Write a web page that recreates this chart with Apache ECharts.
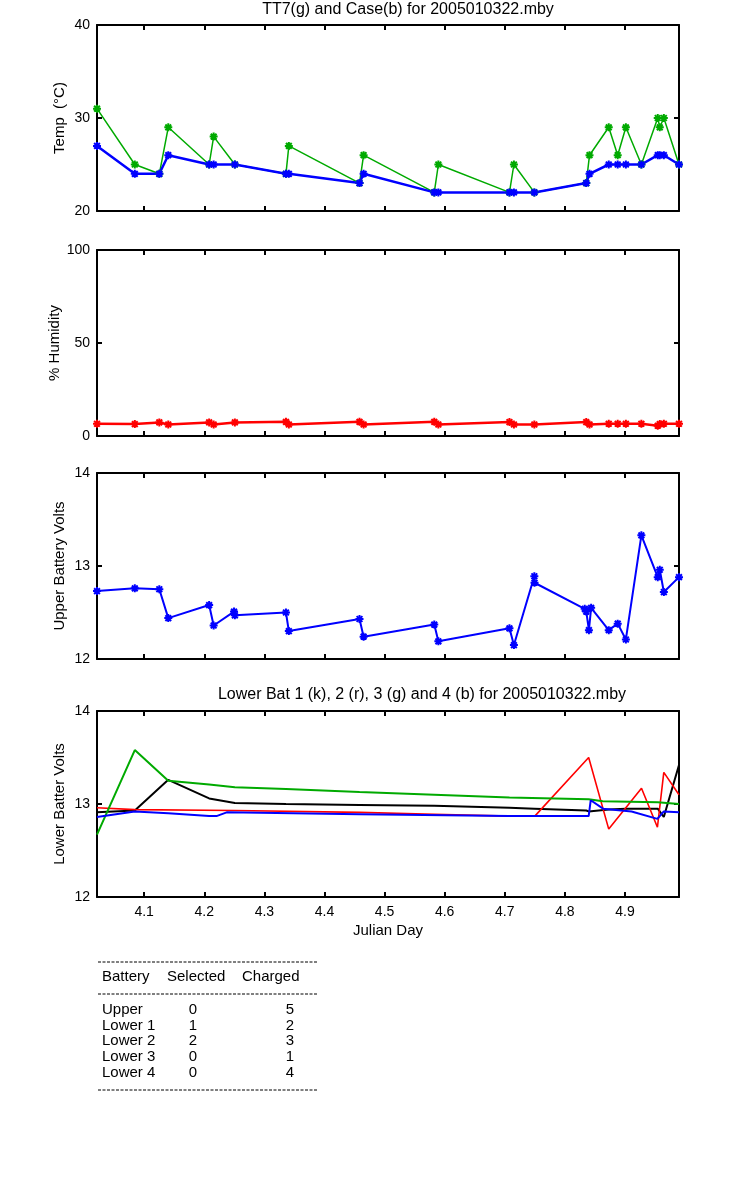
<!DOCTYPE html>
<html>
<head>
<meta charset="utf-8">
<script src="https://cdn.jsdelivr.net/npm/echarts@6/dist/echarts.min.js"></script>
<style>
html,body{margin:0;padding:0;background:#fff;}
#chart{width:750px;height:1200px;}
</style>
</head>
<body>
<div id="chart"></div>
<script>
// ---------------- DATA ----------------
const xTicks = [4.1, 4.2, 4.3, 4.4, 4.5, 4.6, 4.7, 4.8, 4.9];

const jdTemp = [4.0215, 4.0844, 4.1252, 4.1401, 4.2081, 4.2156, 4.2509, 4.3359, 4.3407, 4.4583, 4.4651, 4.5827, 4.5895, 4.7078, 4.7152, 4.7492, 4.8356, 4.8410, 4.8730, 4.8879, 4.9015, 4.9273, 4.9545, 4.9579, 4.9647, 4.9899];
const tt7Temp = [31, 25, 24, 29, 25, 28, 25, 24, 27, 23, 26, 22, 25, 22, 25, 22, 23, 26, 29, 26, 29, 25, 30, 29, 30, 25];
const caseTemp = [27, 24, 24, 26, 25, 25, 25, 24, 24, 23, 24, 22, 22, 22, 22, 22, 23, 24, 25, 25, 25, 25, 26, 26, 26, 25];

const humidity = [6.6, 6.4, 7.3, 6.2, 7.3, 6.2, 7.3, 7.6, 6.2, 7.6, 6.2, 7.6, 6.2, 7.5, 6.2, 6.2, 7.5, 6.2, 6.6, 6.6, 6.6, 6.6, 5.5, 6.4, 6.6, 6.6];

const jdUpper = [4.0215, 4.0844, 4.1252, 4.1401, 4.2081, 4.2156, 4.2495, 4.2509, 4.3359, 4.3407, 4.4583, 4.4651, 4.5827, 4.5895, 4.7078, 4.7152, 4.7492, 4.7495, 4.8330, 4.8356, 4.8400, 4.8437, 4.8730, 4.8879, 4.9015, 4.9273, 4.9545, 4.9579, 4.9647, 4.9899];
const upperVolts = [12.73, 12.76, 12.75, 12.44, 12.58, 12.36, 12.51, 12.47, 12.50, 12.30, 12.43, 12.24, 12.37, 12.19, 12.33, 12.15, 12.89, 12.82, 12.54, 12.51, 12.31, 12.55, 12.31, 12.38, 12.21, 13.33, 12.88, 12.96, 12.72, 12.88];

const lower1Days = [4.0215, 4.0844, 4.1401, 4.2081, 4.2509, 4.3359, 4.4583, 4.5827, 4.7078, 4.7492, 4.8356, 4.8396, 4.8730, 4.9015, 4.9545, 4.9646, 4.9899];
const lower1Volts = [12.91, 12.93, 13.26, 13.06, 13.01, 13.00, 12.99, 12.98, 12.96, 12.95, 12.93, 12.92, 12.94, 12.95, 12.95, 12.86, 13.42];

const lower2Days = [4.0215, 4.0844, 4.2509, 4.4583, 4.5827, 4.7078, 4.7500, 4.8396, 4.8730, 4.9275, 4.9540, 4.9646, 4.9899];
const lower2Volts = [12.96, 12.94, 12.93, 12.91, 12.89, 12.87, 12.87, 13.50, 12.73, 13.17, 12.75, 13.34, 13.10];

const lower3Days = [4.0215, 4.0844, 4.1401, 4.2081, 4.2509, 4.3359, 4.4583, 4.5827, 4.7078, 4.8396, 4.8630, 4.9545, 4.9899];
const lower3Volts = [12.67, 13.58, 13.25, 13.21, 13.18, 13.16, 13.13, 13.10, 13.07, 13.05, 13.03, 13.02, 13.00];

const lower4Days = [4.0215, 4.0844, 4.1401, 4.2081, 4.2203, 4.2373, 4.4583, 4.7078, 4.8396, 4.8430, 4.8635, 4.9110, 4.9540, 4.9646, 4.9899];
const lower4Volts = [12.86, 12.92, 12.90, 12.87, 12.87, 12.91, 12.89, 12.87, 12.87, 13.04, 12.95, 12.92, 12.84, 12.92, 12.91];

const tableHeader = ['Battery', 'Selected', 'Charged'];
const tableBattery = ['Upper', 'Lower 1', 'Lower 2', 'Lower 3', 'Lower 4'];
const tableSelected = [0, 1, 2, 0, 0];
const tableCharged = [5, 2, 3, 1, 4];

const topTitle = 'TT7(g) and Case(b) for 2005010322.mby';
const lowerTitle = 'Lower Bat 1 (k), 2 (r), 3 (g) and 4 (b) for 2005010322.mby';

// ---------------- STYLE / LAYOUT ----------------
const FONT = 'Liberation Sans, Arial, sans-serif';
const X_MIN = 4.0215, X_MAX = 4.9899;
const GREEN = '#00aa00', BLUE = '#0000ff', RED = '#ff0000', BLACK = '#000000';
const STAR = 'path://M0,-5L0,5M-5,0L5,0M-3.6,-3.6L3.6,3.6M-3.6,3.6L3.6,-3.6';

const grids = [
  {left: 97, width: 582, top: 25, height: 186},
  {left: 97, width: 582, top: 250, height: 186},
  {left: 97, width: 582, top: 473, height: 186},
  {left: 97, width: 582, top: 711, height: 186}
];

function makeX(gi, position, showLabels, name) {
  return {
    type: 'value', gridIndex: gi, position: position, min: X_MIN, max: X_MAX,
    name: name || '', nameLocation: 'middle', nameGap: 26, nameMoveOverlap: false,
    nameTextStyle: {color: '#000', fontSize: 15, fontFamily: FONT},
    axisLine: {show: true, onZero: false, lineStyle: {color: '#000', width: 2}},
    axisTick: {show: true, inside: true, length: 5, customValues: xTicks, lineStyle: {color: '#000', width: 2}},
    axisLabel: {show: showLabels, customValues: xTicks, formatter: v => v.toFixed(1), color: '#000', fontSize: 14, fontFamily: FONT, margin: 8},
    splitLine: {show: false}
  };
}
function makeY(gi, position, min, max, interval, showLabels, name, nameGap) {
  return {
    type: 'value', gridIndex: gi, position: position, min: min, max: max, interval: interval,
    name: name || '', nameLocation: 'middle', nameGap: nameGap || 30, nameMoveOverlap: false,
    nameTextStyle: {color: '#000', fontSize: 15, fontFamily: FONT},
    axisLine: {show: true, onZero: false, lineStyle: {color: '#000', width: 2}},
    axisTick: {show: true, inside: true, length: 5, lineStyle: {color: '#000', width: 2}},
    axisLabel: {show: showLabels, color: '#000', fontSize: 14, fontFamily: FONT, margin: 7, showMinLabel: true, showMaxLabel: true},
    splitLine: {show: false}
  };
}

const xAxes = [], yAxes = [];
const yDefs = [
  {min: 20, max: 40, interval: 10, name: 'Temp  (°C)', gap: 30},
  {min: 0, max: 100, interval: 50, name: '% Humidity', gap: 35},
  {min: 12, max: 14, interval: 1, name: 'Upper Battery Volts', gap: 30},
  {min: 12, max: 14, interval: 1, name: 'Lower Batter Volts', gap: 30}
];
for (let i = 0; i < 4; i++) {
  xAxes.push(makeX(i, 'bottom', i === 3, i === 3 ? 'Julian Day' : ''));
  xAxes.push(makeX(i, 'top', false, ''));
  yAxes.push(makeY(i, 'left', yDefs[i].min, yDefs[i].max, yDefs[i].interval, true, yDefs[i].name, yDefs[i].gap));
  yAxes.push(makeY(i, 'right', yDefs[i].min, yDefs[i].max, yDefs[i].interval, false, '', 0));
}

function zip(xs, ys) { return xs.map((x, i) => [x, ys[i]]); }
function markedLine(ai, xs, ys, color, width) {
  return {
    type: 'line', xAxisIndex: ai * 2, yAxisIndex: ai * 2, data: zip(xs, ys),
    symbol: STAR, symbolSize: 8, showSymbol: true, showAllSymbol: true,
    lineStyle: {color: color, width: width},
    itemStyle: {color: color, borderColor: color, borderWidth: 2},
    animation: false, silent: true
  };
}
function plainLine(ai, xs, ys, color, width) {
  return {
    type: 'line', xAxisIndex: ai * 2, yAxisIndex: ai * 2, data: zip(xs, ys),
    symbol: 'none', lineStyle: {color: color, width: width},
    itemStyle: {color: color}, animation: false, silent: true
  };
}

const series = [
  markedLine(0, jdTemp, tt7Temp, GREEN, 1.5),
  markedLine(0, jdTemp, caseTemp, BLUE, 2.5),
  markedLine(1, jdTemp, humidity, RED, 2.5),
  markedLine(2, jdUpper, upperVolts, BLUE, 2),
  plainLine(3, lower1Days, lower1Volts, BLACK, 2),
  plainLine(3, lower2Days, lower2Volts, RED, 1.6),
  plainLine(3, lower3Days, lower3Volts, GREEN, 2),
  plainLine(3, lower4Days, lower4Volts, BLUE, 2)
];

// table + titles as graphic elements
const graphics = [];
function txt(text, x, y, align, size) {
  graphics.push({
    type: 'text', x: x, y: y, silent: true,
    style: {text: text, fill: '#000', font: (size || 15) + 'px ' + FONT,
            align: align, verticalAlign: 'middle', textAlign: align, textVerticalAlign: 'middle'}
  });
}
txt(topTitle, 408, 10, 'center', 16);
txt(lowerTitle, 422, 695, 'center', 16);

[962, 994, 1090].forEach(y => graphics.push({
  type: 'line', silent: true,
  shape: {x1: 98, y1: y, x2: 317, y2: y},
  style: {stroke: '#000', lineWidth: 1, lineDash: [3, 1.5]}
}));
const headerX = [102, 167, 242];
tableHeader.forEach((h, i) => txt(h, headerX[i], 977, 'left', 15));
tableBattery.forEach((b, i) => {
  const y = 1010 + i * 15.6;
  txt(b, 102, y, 'left', 15);
  txt(String(tableSelected[i]), 193, y, 'center', 15);
  txt(String(tableCharged[i]), 290, y, 'center', 15);
});

const chart = echarts.init(document.getElementById('chart'), null, {renderer: 'canvas'});
chart.setOption({
  backgroundColor: '#ffffff',
  animation: false,
  grid: grids,
  xAxis: xAxes,
  yAxis: yAxes,
  series: series,
  graphic: graphics
});
</script>
</body>
</html>
